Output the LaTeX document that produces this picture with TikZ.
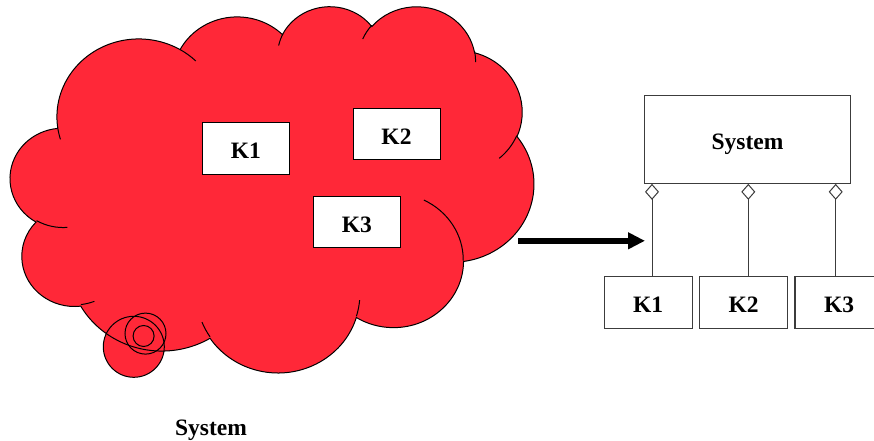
\documentclass[tikz,border=0pt]{standalone}
\usepackage{fontspec}
\setmainfont{Liberation Serif}
\usetikzlibrary{arrows.meta}
\definecolor{cloudred}{RGB}{255,40,56}
\definecolor{umlline}{RGB}{60,60,60}
\def\cloudpath{(39.00,143.70)
 arc[start angle=-187.746, end angle=-59.635, x radius=67.53, y radius=91.90]
 arc[start angle=-152.036, end angle=-45.458, x radius=53.33, y radius=72.67]
 arc[start angle=-153.493, end angle=-37.327, x radius=43.65, y radius=59.45]
 arc[start angle=-139.710, end angle=-10.212, x radius=48.57, y radius=65.95]
 arc[start angle=-74.770, end angle=23.212, x radius=53.33, y radius=72.73]
 arc[start angle=-37.524, end angle=81.863, x radius=67.75, y radius=92.20]
 arc[start angle=0.460, end angle=121.98, x radius=57.85, y radius=78.67]
 arc[start angle=16.845, end angle=146.243, x radius=67.52, y radius=92.15]
 arc[start angle=58.985, end angle=150.167, x radius=77.20, y radius=105.43]
 arc[start angle=83.307, end angle=223.073, x radius=43.60, y radius=59.18]
 arc[start angle=120.346, end angle=264.113, x radius=43.45, y radius=59.45]
 -- cycle}
\begin{document}
\begin{tikzpicture}[x=1pt,y=1pt,
  txt/.style={font=\fontsize{23.5pt}{27pt}\selectfont\bfseries},
  boxtext/.style={txt, text height=20.5pt, text depth=0pt, inner sep=0pt},
  cbox/.style={boxtext, draw=black, line width=1pt, fill=white, minimum width=87pt, minimum height=51.5pt},
  ubox/.style={boxtext, draw=umlline, line width=1.2pt, fill=white, minimum width=88pt, minimum height=52pt},
  sysbox/.style={boxtext, draw=umlline, line width=1.2pt, fill=white, minimum width=206pt, minimum height=87.5pt},
  agg/.style={draw=umlline, line width=1pt, -{Diamond[fill=white, length=16pt, width=14pt]}},
  bigarrow/.style={draw=black, line width=5.5pt, -{Triangle[length=17pt, width=16pt]}},
  outline/.style={draw=black, line width=1pt},
  cloudunits/.style={shift={(10.43,5.52)}, xscale=1.2114, yscale=0.8476}]
\begin{scope}[yscale=-1]
\useasboundingbox (0,0) rectangle (874,441);

% ---- cloud (shape units / 100) ----
\begin{scope}[cloudunits]
\fill[cloudred] \cloudpath;
\end{scope}

% thought bubbles (fill)
\fill[cloudred] (133.8,346.8) circle[radius=30.5];
\fill[cloudred] (145.5,333.6) circle[radius=20.5];
\fill[cloudred] (143.6,336.0) circle[radius=10.5];

\begin{scope}[cloudunits]
\draw[outline] \cloudpath;
\draw[outline]
 (46.93,261.77) arc[start angle=85.547, end angle=120.346, x radius=43.45, y radius=59.45]
 (69.28,348.99) arc[start angle=68.234, end angle=83.307, x radius=43.60, y radius=59.18]
 (164.78,390.90) arc[start angle=146.243, end angle=158.477, x radius=67.52, y radius=92.15]
 (288.27,347.51) arc[start angle=4.738, end angle=16.845, x radius=67.52, y radius=92.15]
 (341.29,229.54) arc[start angle=-64.026, end angle=0.460, x radius=57.85, y radius=78.67]
 (417.98,153.54) arc[start angle=23.212, end angle=49.637, x radius=53.33, y radius=72.73]
 (383.24,54.26) arc[start angle=-10.212, end angle=0.821, x radius=48.57, y radius=65.95]
 (290.78,39.52) arc[start angle=-156.278, end angle=-139.710, x radius=48.57, y radius=65.95]
 (221.41,47.20) arc[start angle=-167.726, end angle=-153.493, x radius=43.65, y radius=59.45]
 (140.00,51.92) arc[start angle=-59.635, end angle=-45.729, x radius=67.53, y radius=91.90]
 (41.27,157.89) arc[start angle=163.193, end angle=172.254, x radius=67.53, y radius=91.90];
\end{scope}

% thought bubbles (outline)
\draw[outline] (133.8,346.8) circle[radius=30.5];
\draw[outline] (145.5,333.6) circle[radius=20.5];
\draw[outline] (143.6,336.0) circle[radius=10.5];

% components inside the cloud
\node[cbox] (ck1) at (245.8,148.3) {K1};
\node[cbox] (ck2) at (396.5,134.2) {K2};
\node[cbox] (ck3) at (356.8,222.0) {K3};

% label below the cloud
\node[txt, anchor=base, inner sep=0pt] (clab) at (211,435) {System};

% arrow
\coordinate (a1) at (518.3,240.8);
\coordinate (a2) at (645,240.8);
\draw[bigarrow] (a1) -- (a2);

% UML diagram
\node[sysbox] (sys) at (747.5,139.5) {System};
\node[ubox] (uk1) at (648.2,302.2) {K1};
\node[ubox] (uk2) at (743.7,302.2) {K2};
\node[ubox] (uk3) at (839.0,302.2) {K3};
\coordinate (c1) at (652,0);
\coordinate (c2) at (748.3,0);
\coordinate (c3) at (835.7,0);
\draw[agg] (uk1.north -| c1) -- (sys.south -| c1);
\draw[agg] (uk2.north -| c2) -- (sys.south -| c2);
\draw[agg] (uk3.north -| c3) -- (sys.south -| c3);
\end{scope}
\end{tikzpicture}
\end{document}
